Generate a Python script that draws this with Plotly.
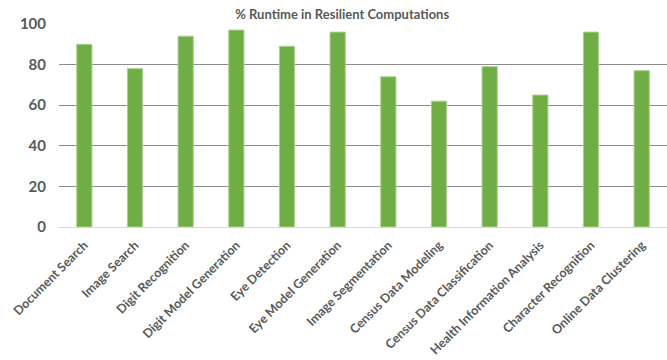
import plotly.graph_objects as go

categories = ["Document Search", "Image Search", "Digit Recognition", "Digit Model Generation",
              "Eye Detection", "Eye Model Generation", "Image Segmentation", "Census Data Modeling",
              "Census Data Classification", "Health Information Analysis", "Character Recognition",
              "Online Data Clustering"]
values = [90, 78, 94, 97, 89, 96, 74, 62, 79, 65, 96, 77]
y_ticks = [0, 20, 40, 60, 80, 100]

fig = go.Figure(go.Bar(x=categories, y=values, marker=dict(color="#70AD47", line=dict(color="#A9D18E", width=1))))
fig.update_layout(
    width=667, height=360,
    margin=dict(l=59, r=0, t=24, b=133),
    plot_bgcolor="white", paper_bgcolor="white",
    bargap=0.7,
    showlegend=False,
    title=dict(text="<b>% Runtime in Resilient Computations</b>", x=0.513, xanchor="center",
               y=1 - 14/360, yanchor="middle",
               font=dict(family="Lato", size=13, color="#595959")),
    font=dict(family="Lato", color="#595959"),
)
fig.update_yaxes(range=[0, 100], tickvals=y_ticks, ticktext=[f"<b>{v}</b>" for v in y_ticks],
                 showgrid=True, gridcolor="#8c8c8c", gridwidth=1, zeroline=False,
                 tickfont=dict(size=15, color="#595959"), ticks="", ticklabelstandoff=12)
fig.update_xaxes(tickangle=-45, tickfont=dict(size=12.5, color="#595959"),
                 showline=True, linecolor="#d9d9d9", linewidth=1, ticks="", ticklabelstandoff=5,
                 ticktext=[f"<b>{c}</b>" for c in categories], tickvals=categories)
fig.write_html("out.html")
